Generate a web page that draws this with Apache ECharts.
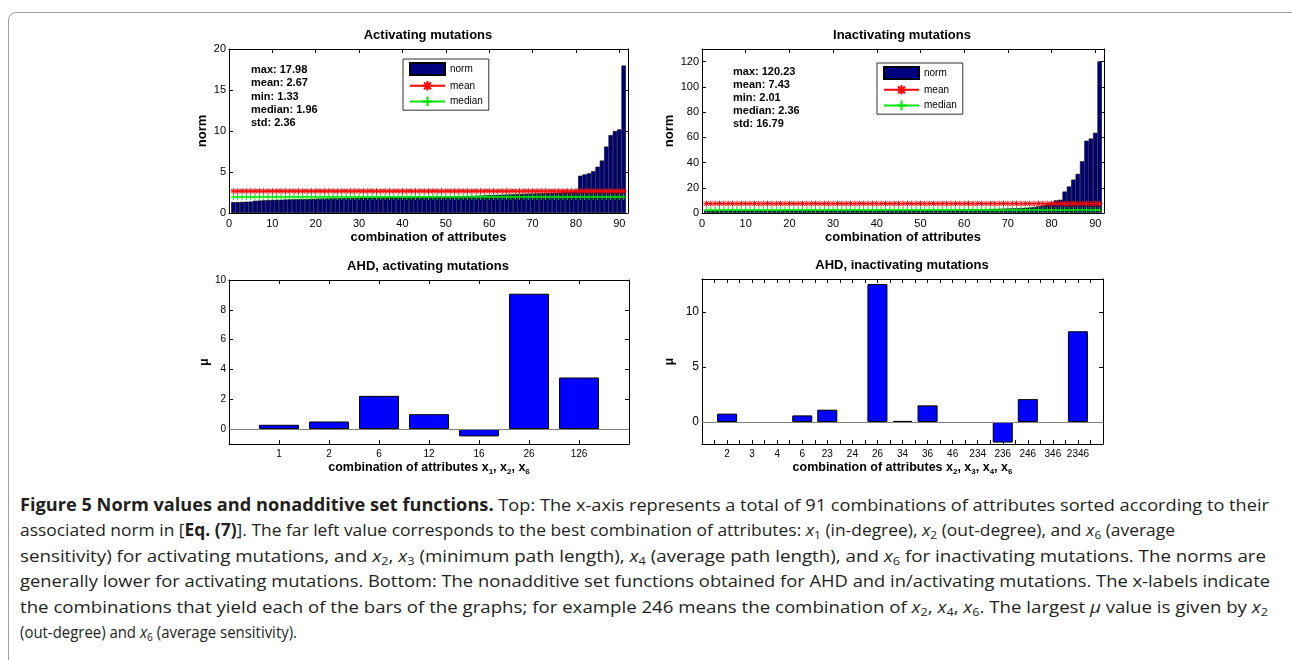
<!DOCTYPE html>
<html>
<head>
<meta charset="utf-8">
<script src="https://cdn.jsdelivr.net/npm/echarts@6/dist/echarts.min.js"></script>
<style>
html,body{margin:0;padding:0;background:#fff;width:1292px;height:660px;overflow:hidden;}
#frame{position:absolute;left:8px;top:12px;width:1320px;height:720px;border:1px solid #a0a0a0;border-radius:8px;box-sizing:border-box;}
#chart{position:absolute;left:0;top:0;width:1292px;height:490px;}
#caption{position:absolute;left:20px;top:492px;font-family:"Open Sans",sans-serif;font-size:17px;color:#231f20;}
.ln{white-space:nowrap;height:25.4px;line-height:25.4px;transform-origin:0 50%;width:max-content;}
.ln sub{font-size:68%;vertical-align:-0.28em;line-height:0;}
.ln b{font-weight:700;}
</style>
</head>
<body>
<div id="frame"></div>
<div id="chart"></div>
<div id="caption">
<div class="ln"><b>Figure 5 Norm values and nonadditive set functions.</b> Top: The x-axis represents a total of 91 combinations of attributes sorted according to their</div>
<div class="ln">associated norm in [<b>Eq. (7)</b>]. The far left value corresponds to the best combination of attributes: <i>x</i><sub>1</sub> (in-degree), <i>x</i><sub>2</sub> (out-degree), and <i>x</i><sub>6</sub> (average</div>
<div class="ln">sensitivity) for activating mutations, and <i>x</i><sub>2</sub>, <i>x</i><sub>3</sub> (minimum path length), <i>x</i><sub>4</sub> (average path length), and <i>x</i><sub>6</sub> for inactivating mutations. The norms are</div>
<div class="ln">generally lower for activating mutations. Bottom: The nonadditive set functions obtained for AHD and in/activating mutations. The x-labels indicate</div>
<div class="ln">the combinations that yield each of the bars of the graphs; for example 246 means the combination of <i>x</i><sub>2</sub>, <i>x</i><sub>4</sub>, <i>x</i><sub>6</sub>. The largest <i>μ</i> value is given by <i>x</i><sub>2</sub></div>
<div class="ln">(out-degree) and <i>x</i><sub>6</sub> (average sensitivity).</div>
</div>
<script>
// ---------------- data ----------------
const activatingNorm = [
  1.33,1.34,1.36,1.38,1.40,
  1.50,1.52,1.55,1.58,1.60,1.61,1.62,
  1.65,1.67,1.68,1.70,1.71,1.72,1.74,1.75,
  1.77,1.78,1.79,1.80,1.81,1.82,1.83,1.84,1.85,1.86,
  1.87,1.88,1.89,1.90,1.91,1.92,1.93,1.94,1.95,1.95,
  1.95,1.96,1.96,1.96,1.96,1.96,1.97,1.98,1.99,2.00,
  2.02,2.03,2.05,2.06,2.08,2.10,2.11,2.13,2.15,2.18,
  2.20,2.22,2.24,2.26,2.28,2.30,2.33,2.35,2.37,2.38,
  2.40,2.42,2.44,2.46,2.48,2.50,2.55,2.60,2.65,2.75,
  4.55,4.70,4.84,5.10,5.65,6.40,8.10,9.50,10.00,10.20,17.98
];
const inactivatingNorm = [
  2.01,2.03,2.05,2.07,2.09,2.10,2.12,2.13,2.14,2.15,
  2.16,2.17,2.18,2.19,2.20,2.21,2.22,2.23,2.24,2.25,
  2.26,2.27,2.27,2.28,2.28,2.29,2.29,2.30,2.30,2.31,
  2.31,2.32,2.32,2.33,2.33,2.34,2.34,2.35,2.35,2.35,
  2.35,2.36,2.36,2.36,2.36,2.36,2.37,2.38,2.39,2.40,
  2.41,2.42,2.44,2.46,2.48,2.50,2.52,2.55,2.58,2.61,
  2.65,2.70,2.80,2.90,3.10,3.20,3.30,3.40,3.50,3.60,
  3.70,3.80,3.90,4.10,4.40,4.80,5.30,6.00,7.00,8.50,
  10.0,10.5,17.0,21.0,26.5,31.0,41.0,57.3,59.0,63.6,120.23
];
const meanActivating = 2.67, medianActivating = 1.96;
const meanInactivating = 7.43, medianInactivating = 2.36;
const statsActivating = ['max: 17.98','mean: 2.67','min: 1.33','median: 1.96','std: 2.36'];
const statsInactivating = ['max: 120.23','mean: 7.43','min: 2.01','median: 2.36','std: 16.79'];

const ahdActCats = ['1','2','6','12','16','26','126'];
const ahdActMu   = [0.29,0.51,2.23,1.00,-0.49,9.08,3.46];
const ahdInactCats = ['2','3','4','6','23','24','26','34','36','46','234','236','246','346','2346'];
const ahdInactMu   = [0.76,0,0,0.60,1.12,0,12.54,0.10,1.51,0,0,-1.87,2.08,0,8.25];

const topXTicks = [0,10,20,30,40,50,60,70,80,90];
const topLeftYTicks = [0,5,10,15,20];
const topRightYTicks = [0,20,40,60,80,100,120];
const botLeftYTicks = [0,2,4,6,8,10];
const botRightYTicks = [0,5,10];

// ---------------- helpers ----------------
const FONT = '"Liberation Sans", Arial, Helvetica, sans-serif';
const idx = n => Array.from({length:n},(_,i)=>i+1);

function axisPair(dim, gi, min, max, tickVals, labelVals, fmt, fontSize, name, nameGap, nameStyle) {
  const base = {
    type:'value', gridIndex:gi, min:min, max:max,
    axisLine:{show:true, onZero:false, lineStyle:{color:'#000', width:1}},
    axisTick:{show:true, inside:true, length:4, customValues:tickVals, lineStyle:{color:'#000', width:1}},
    splitLine:{show:false},
    splitArea:{show:false}
  };
  const main = Object.assign({}, base, {
    position: dim==='x' ? 'bottom' : 'left',
    axisLabel:{show:true, customValues:labelVals, color:'#000', fontFamily:FONT, fontSize:fontSize, margin:dim==='x'?5:3, formatter:fmt},
    name:name, nameLocation:'middle', nameGap:nameGap,
    nameTextStyle:Object.assign({color:'#000', fontFamily:FONT, fontWeight:'bold', fontSize:13}, nameStyle||{})
  });
  const mirror = Object.assign({}, base, {
    position: dim==='x' ? 'top' : 'right',
    axisLabel:{show:false}
  });
  return [main, mirror];
}

const asterisk = 'path://M0,-5L0,5M-5,0L5,0M-3.6,-3.6L3.6,3.6M-3.6,3.6L3.6,-3.6';
const plus = 'path://M0,-5L0,5M-5,0L5,0';

const xIdx91 = idx(91);
const halfTicks16 = Array.from({length:33},(_,i)=>i*0.5);

const xAxes = [], yAxes = [];
xAxes.push(...axisPair('x',0,0,92,topXTicks,topXTicks,null,11,'combination of attributes',18));
yAxes.push(...axisPair('y',0,0,20,topLeftYTicks,topLeftYTicks,null,11,'norm',20));
xAxes.push(...axisPair('x',1,0,92,topXTicks,topXTicks,null,11,'combination of attributes',18));
yAxes.push(...axisPair('y',1,0,130,topRightYTicks,topRightYTicks,null,11,'norm',26));
const subRich = {s:{fontSize:8, fontWeight:'bold', fontFamily:FONT, color:'#000', verticalAlign:'bottom', lineHeight:8}};
xAxes.push(...axisPair('x',2,0,8,idx(7),idx(7),v=>ahdActCats[v-1]||'',10,
  'combination of attributes x{s|1}, x{s|2}, x{s|6}',15,{fontSize:12.5, lineHeight:16, rich:subRich}));
yAxes.push(...axisPair('y',2,-1,10,botLeftYTicks,botLeftYTicks,null,10,'μ',18,{fontSize:12}));
xAxes.push(...axisPair('x',3,0,16,halfTicks16,idx(15),v=>ahdInactCats[v-1]||'',10,
  'combination of attributes x{s|2}, x{s|3}, x{s|4}, x{s|6}',15,{fontSize:12.5, lineHeight:16, rich:subRich}));
yAxes.push(...axisPair('y',3,-2,13,botRightYTicks,botRightYTicks,null,12,'μ',26,{fontSize:12}));

function lineSeries(name, gi, val, color, sym) {
  return {
    name:name, type:'line', xAxisIndex:gi*2, yAxisIndex:gi*2,
    data:xIdx91.map(x=>[x,val]),
    symbol:sym, symbolSize:6, showSymbol:true,
    lineStyle:{color:color, width:1},
    itemStyle:{color:color, borderColor:color, borderWidth:1},
    z:3, silent:true
  };
}
function normBars(gi, arr) {
  return {
    name:'norm', type:'bar', xAxisIndex:gi*2, yAxisIndex:gi*2,
    data:arr.map((v,i)=>[xIdx91[i],v]),
    barWidth:'100%',
    itemStyle:{color:'#00007e', borderColor:'#000', borderWidth:0.6},
    z:2, silent:true
  };
}
function muBars(gi, arr) {
  return {
    type:'bar', xAxisIndex:gi*2, yAxisIndex:gi*2,
    data:arr.map((v,i)=> v===0 ? {value:[i+1,v], itemStyle:{borderWidth:0}} : [i+1,v]),
    barWidth:'80%',
    itemStyle:{color:'#0000ff', borderColor:'#000', borderWidth:1},
    silent:true,
    markLine:{silent:true, symbol:'none', label:{show:false}, animation:false,
      lineStyle:{color:'#808080', width:1, type:'solid'}, data:[{yAxis:0}]}
  };
}

function legendAt(left, top) {
  return {
    orient:'vertical', left:left, top:top,
    data:[{name:'norm', icon:'rect'}, {name:'mean'}, {name:'median'}],
    itemWidth:35, itemHeight:12, itemGap:4,
    padding:[3,6,3,6],
    borderColor:'#333', borderWidth:1, backgroundColor:'#fff',
    textStyle:{color:'#000', fontFamily:FONT, fontSize:10},
    selectedMode:false
  };
}

function txt(x, y, s, extra) {
  return {type:'text', x:x, y:y, silent:true, z:100,
    style:Object.assign({text:s, fill:'#000', font:'bold 13px ' + FONT, align:'center', verticalAlign:'middle'}, extra||{})};
}

const option = {
  animation:false,
  backgroundColor:'transparent',
  grid:[
    {left:229, top:49, width:399, height:164},
    {left:702, top:49, width:402, height:164},
    {left:229, top:280, width:400, height:164},
    {left:702, top:279, width:401, height:165}
  ],
  xAxis:xAxes,
  yAxis:yAxes,
  legend:[legendAt(403,59), legendAt(877,63)],
  series:[
    normBars(0, activatingNorm),
    lineSeries('mean',0,meanActivating,'#ff0000',asterisk),
    lineSeries('median',0,medianActivating,'#00e600',plus),
    normBars(1, inactivatingNorm),
    lineSeries('mean',1,meanInactivating,'#ff0000',asterisk),
    lineSeries('median',1,medianInactivating,'#00e600',plus),
    muBars(2, ahdActMu),
    muBars(3, ahdInactMu)
  ],
  graphic:[
    txt(428,35,'Activating mutations'),
    txt(902,35,'Inactivating mutations'),
    txt(428,266,'AHD, activating mutations'),
    txt(902,265,'AHD, inactivating mutations'),
    txt(251,63.5,statsActivating.join('\n'),{font:'bold 11px ' + FONT, align:'left', verticalAlign:'top', lineHeight:13.2}),
    txt(733,65.2,statsInactivating.join('\n'),{font:'bold 11px ' + FONT, align:'left', verticalAlign:'top', lineHeight:13.1})
  ]
};

const chart = echarts.init(document.getElementById('chart'), null, {renderer:'canvas'});
chart.setOption(option);

// fit each caption line to the width it has in the reference
const targetWidths = [1249, 1155, 1246, 1250, 1248, 277];
document.querySelectorAll('#caption .ln').forEach((el,i)=>{
  const w = el.getBoundingClientRect().width;
  if (w > 0) el.style.transform = 'scaleX(' + (targetWidths[i]/w) + ')';
});
</script>
</body>
</html>
